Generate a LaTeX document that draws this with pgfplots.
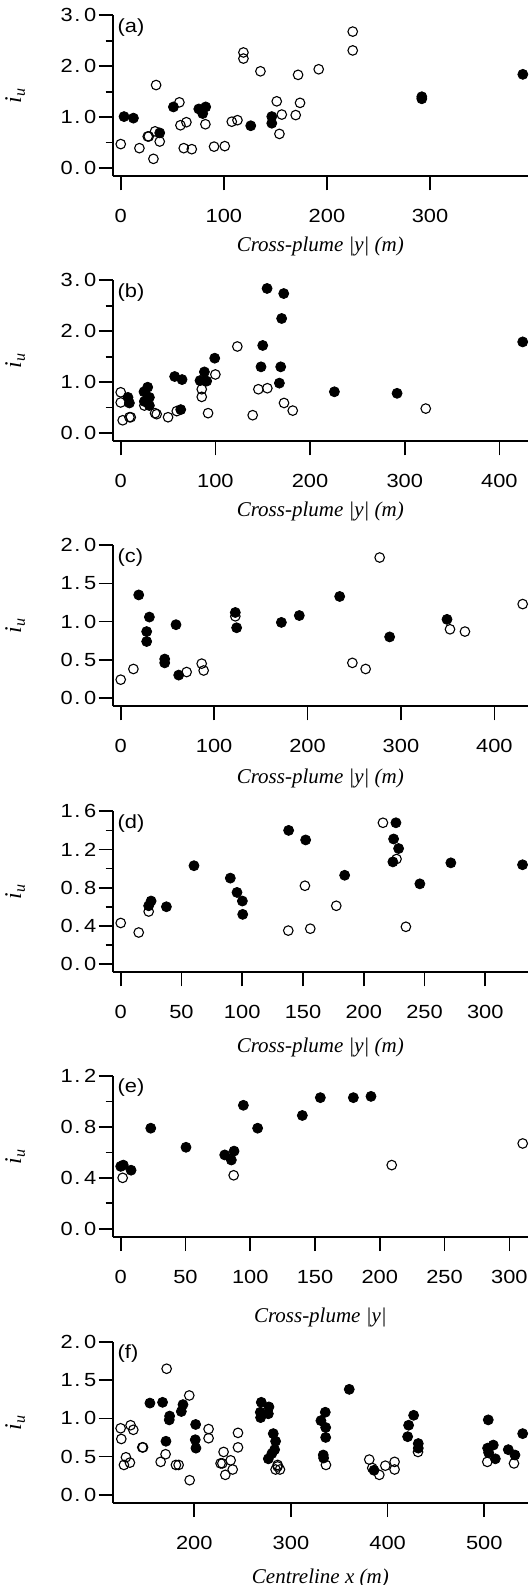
\documentclass[border=0pt]{standalone}
\usepackage{fontspec}
\setmainfont{Liberation Sans}[FakeStretch=1.15]
\newfontfamily\tnr{Liberation Serif}
\usepackage{pgfplots}
\pgfplotsset{compat=1.18}

% 1 px of the reference = 0.5pt
\pgfplotsset{
  panel/.style={
    scale only axis, width=207.65pt, height=80.5pt,
    anchor=south west, clip=false, enlargelimits=false,
    axis lines*=left,
    axis line style={line width=0.85pt},
    tick align=outside,
    major tick length=7pt, minor tick length=3.5pt,
    every tick/.style={black, line width=0.85pt},
    /pgf/number format/assume math mode=true,
    tick label style={font=\fontsize{9.5}{11}\selectfont},
    xticklabel style={anchor=base, inner sep=0pt, yshift=-16pt},
    yticklabel style={anchor=east, inner sep=0pt, xshift=-1pt},
    label style={font=\tnr\itshape\fontsize{10.5}{12}\selectfont},
    xlabel style={at={(axis description cs:0.5,-0.47)}, anchor=base},
    ylabel style={at={(axis description cs:-0.235,0.5)}, anchor=center,
      font=\tnr\itshape\fontsize{12}{14}\selectfont},
    ylabel={i\textsubscript{u}},
  },
  openm/.style={only marks, mark=o, mark size=2.4pt,
    mark options={black, line width=0.55pt}},
  fillm/.style={only marks, mark=*, mark size=2.5pt,
    mark options={black, fill=black}},
}
\newcommand{\dd}[2]{#1\kern0.9pt.\kern1.8pt#2}
\newcommand{\tag}[1]{\node[anchor=north west, inner sep=0pt, xshift=2.3pt, yshift=-1.3pt,
  font=\fontsize{9.5}{11}\selectfont] at (rel axis cs:0,1) {#1};}

\begin{document}
\begin{tikzpicture}
\useasboundingbox (0,0) rectangle (264.5pt,-792.5pt);

%% (a)
\begin{axis}[panel, at={(56.35pt,-88.15pt)},
  xmin=-7.8, xmax=395, ymin=-0.163, ymax=3,
  xtick={0,100,200,300}, ytick={0,1,2,3}, minor ytick={0.5,1.5,2.5},
  yticklabels={\dd00,\dd10,\dd20,\dd30},
  xlabel={Cross-plume |y| (m)}]
\addplot[openm] coordinates {
 (0,0.47)(18.1,0.39)(26.2,0.62)(27.2,0.62)(31.7,0.18)(33.3,0.72)(34.3,1.63)
 (37.8,0.52)(56.9,1.29)(57.9,0.84)(63.7,0.90)(61.1,0.39)(68.9,0.37)(82.1,0.86)
 (90.5,0.42)(100.9,0.43)(107.7,0.91)(113.2,0.94)(119,2.27)(119,2.15)(135.5,1.90)
 (151.3,1.31)(156.2,1.05)(153.9,0.67)(169.7,1.04)(172,1.83)(173.9,1.28)(192,1.94)
 (225,2.68)(225,2.31)};
\addplot[fillm] coordinates {
 (3.2,1.01)(12.3,0.98)(37.8,0.69)(51.1,1.20)(75.7,1.16)(79.5,1.07)(82.4,1.20)
 (126.1,0.83)(146.5,1.01)(146.5,0.88)(292,1.40)(292,1.36)(390,1.84)};
\tag{(a)}
\end{axis}

%% (b)
\begin{axis}[panel, at={(56.35pt,-220.65pt)},
  xmin=-8.45, xmax=430.2, ymin=-0.163, ymax=3,
  xtick={0,100,200,300,400}, ytick={0,1,2,3}, minor ytick={0.5,1.5,2.5},
  yticklabels={\dd00,\dd10,\dd20,\dd30},
  xlabel={Cross-plume |y| (m)}]
\addplot[openm] coordinates {
 (0,0.80)(0,0.60)(2.1,0.25)(9.2,0.31)(10.6,0.31)(25,0.54)(36.3,0.39)(38,0.37)
 (50,0.31)(59.2,0.43)(85.6,0.86)(85.6,0.71)(92.3,0.39)(100,1.15)(123.2,1.70)
 (139.4,0.35)(145.4,0.86)(154.9,0.88)(172.5,0.59)(181.7,0.44)(322.2,0.48)};
\addplot[fillm] coordinates {
 (7.7,0.70)(9.2,0.59)(24.6,0.81)(28.5,0.90)(25,0.62)(30.3,0.70)(30.3,0.54)
 (57,1.11)(64.8,1.05)(63.4,0.46)(83.8,1.03)(88.4,1.20)(90.8,1.02)(99.3,1.47)
 (154.6,2.84)(172.2,2.74)(170,2.25)(150,1.72)(148.2,1.30)(169,1.30)(167.6,0.98)
 (225.7,0.81)(291.9,0.78)(424.6,1.79)};
\tag{(b)}
\end{axis}

%% (c)
\begin{axis}[panel, at={(56.35pt,-353.15pt)},
  xmin=-8.56, xmax=436, ymin=-0.109, ymax=2,
  xtick={0,100,200,300,400}, ytick={0,0.5,1,1.5,2},
  yticklabels={\dd00,\dd05,\dd10,\dd15,\dd20},
  xlabel style={at={(axis description cs:0.5,-0.48)}},
  xlabel={Cross-plume |y| (m)}]
\addplot[openm] coordinates {
 (0,0.24)(13.6,0.38)(70.6,0.34)(86.7,0.45)(88.8,0.36)(122.7,1.07)(248,0.46)
 (262.2,0.38)(277.2,1.84)(352.5,0.90)(368.5,0.87)(430.3,1.23)};
\addplot[fillm] coordinates {
 (19.3,1.35)(30.7,1.06)(27.8,0.87)(27.8,0.74)(47.1,0.51)(47.1,0.46)(59.2,0.96)
 (62.1,0.30)(122.7,1.12)(124.1,0.92)(172,0.99)(191.2,1.08)(234.4,1.33)
 (287.9,0.80)(349.3,1.03)};
\tag{(c)}
\end{axis}

%% (d)
\begin{axis}[panel, at={(56.35pt,-486.15pt)},
  xmin=-6.6, xmax=335.2, ymin=-0.087, ymax=1.6,
  xtick={0,50,100,150,200,250,300}, ytick={0,0.4,0.8,1.2,1.6},
  minor ytick={0.2,0.6,1.0,1.4},
  yticklabels={\dd00,\dd04,\dd08,\dd12,\dd16},
  xlabel style={at={(axis description cs:0.5,-0.495)}},
  xlabel={Cross-plume |y| (m)}]
\addplot[openm] coordinates {
 (0,0.43)(14.8,0.33)(23,0.55)(137.9,0.35)(151.6,0.82)(156,0.37)(177.4,0.61)
 (215.8,1.48)(227,1.10)(234.7,0.39)};
\addplot[fillm] coordinates {
 (23,0.61)(25,0.66)(37.6,0.60)(60.3,1.03)(90.2,0.90)(95.7,0.75)(100.1,0.66)
 (100.4,0.52)(138.2,1.40)(152.2,1.30)(184.3,0.93)(226.5,1.48)(224.6,1.31)
 (228.7,1.21)(224,1.07)(246.2,0.84)(271.7,1.06)(330.7,1.04)};
\tag{(d)}
\end{axis}

%% (e)
\begin{axis}[panel, at={(56.35pt,-618.5pt)},
  xmin=-6.18, xmax=314.4, ymin=-0.065, ymax=1.2,
  xtick={0,50,100,150,200,250,300}, ytick={0,0.4,0.8,1.2},
  minor ytick={0.2,0.6,1.0},
  yticklabels={\dd00,\dd04,\dd08,\dd12},
  xlabel style={at={(axis description cs:0.5,-0.53)}},
  xlabel={Cross-plume |y|}]
\addplot[openm] coordinates {
 (1.5,0.40)(87.2,0.42)(209.2,0.50)(310.3,0.67)};
\addplot[fillm] coordinates {
 (0,0.49)(2,0.50)(8,0.46)(23.2,0.79)(50.4,0.64)(80.3,0.58)(85.4,0.54)
 (87.5,0.61)(94.7,0.97)(105.7,0.79)(140.2,0.89)(154.1,1.03)(179.6,1.03)
 (193.2,1.04)};
\tag{(e)}
\end{axis}

%% (f)
\begin{axis}[panel, at={(56.35pt,-751.5pt)},
  xmin=115.6, xmax=545.2, ymin=-0.109, ymax=2,
  xtick={200,300,400,500}, ytick={0,0.5,1,1.5,2},
  yticklabels={\dd00,\dd05,\dd10,\dd15,\dd20},
  xlabel style={at={(axis description cs:0.5,-0.50)}},
  xlabel={Centreline x (m)}]
\addplot[openm] coordinates {
 (123.8,0.87)(124.5,0.73)(134.1,0.91)(136.9,0.85)(129.3,0.49)(127.2,0.39)
 (133.4,0.42)(146.2,0.62)(147,0.62)(171.4,1.65)(170.3,0.53)(165.2,0.43)
 (181,0.39)(183.8,0.39)(195.2,0.19)(194.8,1.30)(214.8,0.86)(214.8,0.74)
 (227.2,0.41)(229,0.41)(230.3,0.56)(237.6,0.45)(239.7,0.33)(232.1,0.26)
 (245.2,0.81)(245.2,0.62)(286.2,0.39)(284.1,0.33)(288.6,0.33)(286.2,0.37)
 (336.2,0.39)(381,0.46)(384.1,0.35)(391.4,0.26)(397.6,0.38)(407.2,0.43)
 (407.2,0.33)(431.4,0.56)(503.1,0.43)(530.7,0.41)};
\addplot[fillm] coordinates {
 (154.1,1.20)(167.2,1.21)(174.5,1.03)(174.1,0.98)(170.7,0.70)(188.3,1.18)
 (186.6,1.09)(201.4,0.92)(201,0.72)(201.7,0.61)(269.3,1.21)(277.2,1.15)
 (268.3,1.08)(268.6,1.01)(276.6,1.06)(281.7,0.80)(284.1,0.70)(283.1,0.59)
 (280.3,0.54)(276.6,0.47)(335.5,1.08)(331,0.97)(335.9,0.88)(335.9,0.75)
 (333.4,0.52)(333.8,0.48)(360.3,1.38)(385.9,0.32)(426.9,1.04)(421.7,0.91)
 (420.7,0.76)(431.7,0.67)(431.7,0.61)(504.1,0.98)(509.3,0.65)(503.4,0.61)
 (504.5,0.55)(511.4,0.47)(524.8,0.59)(531.7,0.52)(539.7,0.80)};
\tag{(f)}
\end{axis}
\end{tikzpicture}
\end{document}
